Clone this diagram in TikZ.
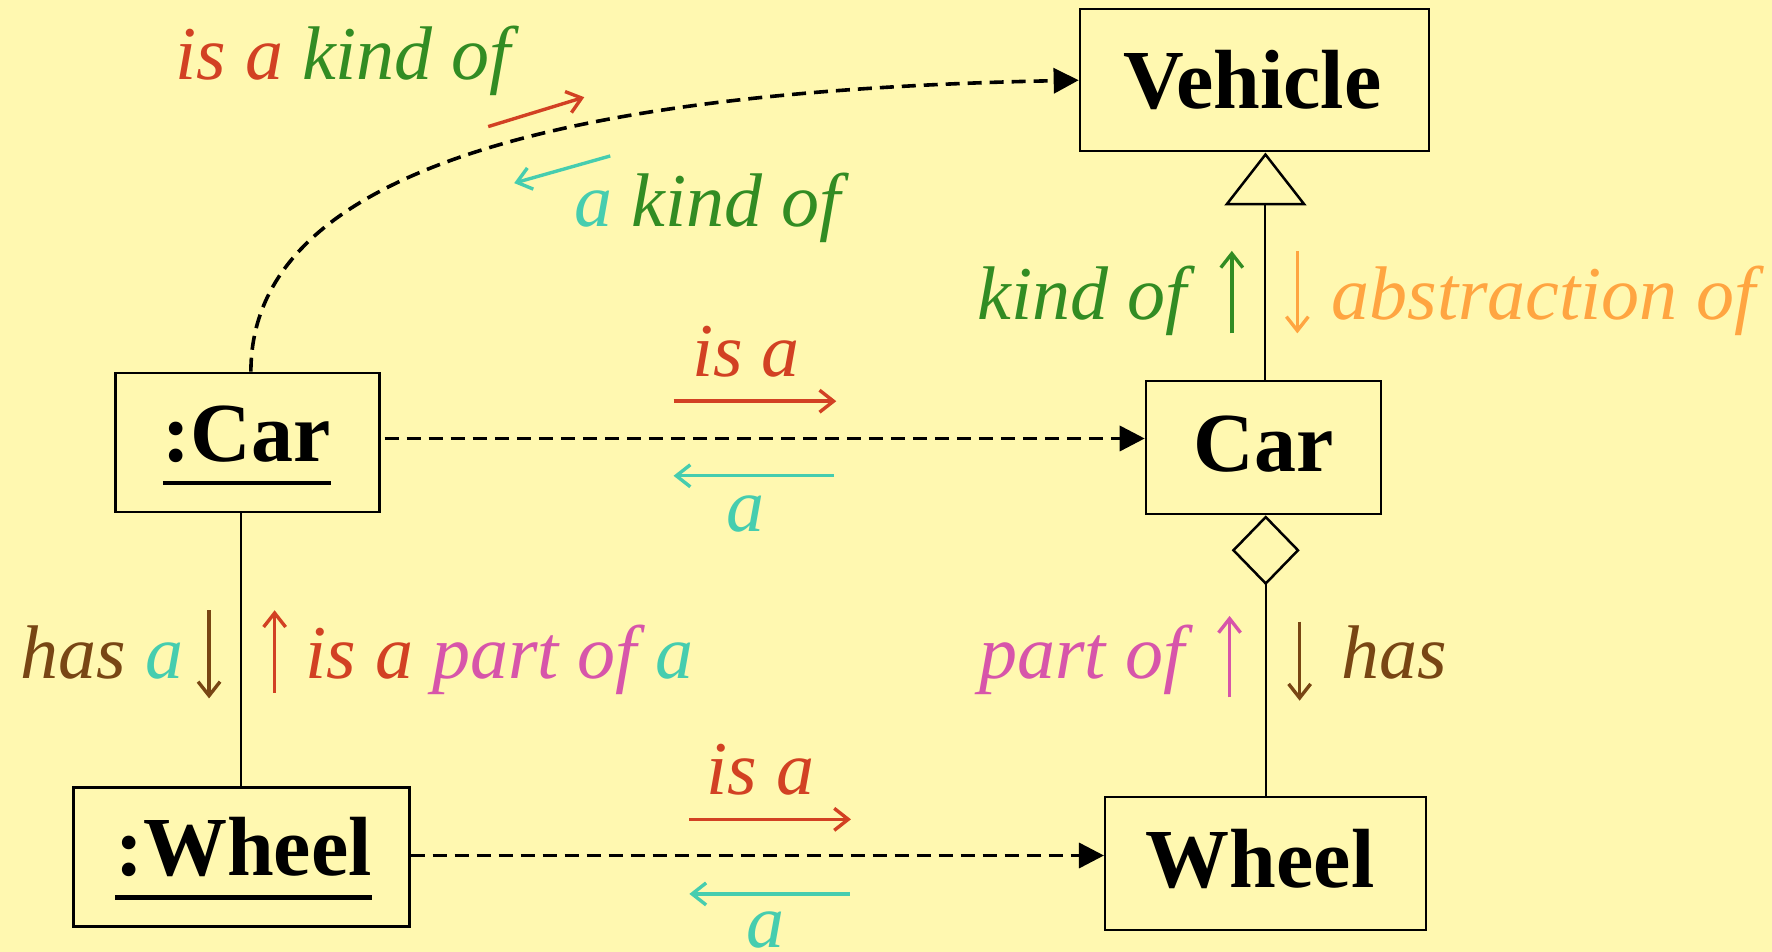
\documentclass[tikz,border=0pt]{standalone}
\usepackage{fontspec}
\setmainfont{Liberation Serif}
\usetikzlibrary{arrows.meta}
\definecolor{bg}{RGB}{255,248,176}
\definecolor{cred}{RGB}{210,65,35}
\definecolor{cgreen}{RGB}{50,140,35}
\definecolor{ccyan}{RGB}{70,205,175}
\definecolor{corange}{RGB}{255,165,65}
\definecolor{cmag}{RGB}{215,85,170}
\definecolor{cbrown}{RGB}{120,70,20}
\newsavebox\ulbox
\newcommand\myul[1]{\sbox\ulbox{#1}\rlap{\rule[-24pt]{\wd\ulbox}{4.5pt}}\usebox\ulbox}
\begin{document}
\begin{tikzpicture}[x=1.1301pt,y=-1.1301pt,
  box/.style={draw, line width=2.5pt, inner sep=0pt},
  bt/.style={font=\fontsize{84}{90}\selectfont\bfseries, inner sep=0pt, anchor=base},
  lab/.style={font=\fontsize{76}{80}\selectfont\itshape, inner sep=0pt},
  thin/.style={line width=2pt},
  dashedc/.style={line width=3.6pt, dash pattern=on 14pt off 8pt, -{Triangle[length=25pt,width=25pt]}},
  arr/.style={line width=3.4pt, -{Straight Barb[length=14pt,width=22pt]}}
]
\path[fill=bg] (0,0) rectangle (1568,842);
\useasboundingbox (0,0) rectangle (1568,842);

% boxes
\node[box, minimum width=349pt, minimum height=142pt] (vehicle) at (1110,71) {};
\node[box, minimum width=235pt, minimum height=133pt] (car) at (1118,396) {};
\node[box, minimum width=264pt, minimum height=139pt] (ocar) at (219,391.5) {};
\node[box, minimum width=336pt, minimum height=139pt] (owheel) at (213.5,758.5) {};
\node[box, minimum width=321pt, minimum height=133pt] (wheel) at (1120,764) {};

% box texts
\node[bt] (vehicleT) at (1108,96) {Vehicle};
\node[bt] (carT) at (1118,417) {Car};
\node[bt] (ocarT) at (218.5,408) {\myul{:Car}};
\node[bt] (owheelT) at (215.5,775) {\myul{:Wheel}};
\node[bt] (wheelT) at (1115,785) {Wheel};

% generalization and aggregation
\draw[thin, -{Triangle[open, length=53pt, width=82pt, line width=2.5pt, fill=bg]}] ([xshift=2pt]car.north) -- ([xshift=2pt]car.north |- vehicle.south);
\draw[thin, -{Diamond[open, length=70pt, width=68pt, line width=2.5pt, fill=bg]}] (wheel.north) -- (wheel.north |- car.south);
\draw[thin] ([xshift=-0.5pt]owheel.north) -- ([xshift=-0.5pt]owheel.north |- ocar.south);

% dependencies
\coordinate (r1) at (0,388);
\coordinate (r2) at (0,757);
\draw[dashedc] ([xshift=4pt]ocar.east |- r1) -- (car.west |- r1);
\draw[dashedc] (owheel.east |- r2) -- (wheel.west |- r2);
\draw[dashedc] ([xshift=3.4pt]ocar.north) .. controls (222,150) and (500,80) .. (vehicle.west);

% labels on curve
\node[lab, anchor=base west] (l1) at (155,70) {\textcolor{cred}{is a} \textcolor{cgreen}{kind of}};
\draw[arr, cred] (432,112) -- (517,86);
\draw[arr, ccyan] (540,138) -- (455,162);
\node[lab, anchor=base west] (l2) at (508,200) {\textcolor{ccyan}{a} \textcolor{cgreen}{kind of}};

% Car row
\node[lab, anchor=base, cred] (l3) at (660,333) {is a};
\draw[arr, cred] (596,355) -- (740,355);
\draw[arr, ccyan] (738,421) -- (596,421);
\node[lab, anchor=base, ccyan] (l4) at (660,470) {a};

% Vehicle-Car
\node[lab, anchor=base east, cgreen] (l5) at (1050,283) {kind of};
\draw[arr, cgreen] (1090,295) -- (1090,222);
\draw[arr, corange] (1148,222) -- (1148,295);
\node[lab, anchor=base west, corange] (l6) at (1178,283) {abstraction of};

% :Car - :Wheel
\node[lab, anchor=base west] (l7) at (18,600) {\textcolor{cbrown}{has} \textcolor{ccyan}{a}};
\draw[arr, cbrown] (185,540) -- (185,618);
\draw[arr, cred] (243,613) -- (243,540);
\node[lab, anchor=base west] (l8) at (270,600) {\textcolor{cred}{is a} \textcolor{cmag}{part of} \textcolor{ccyan}{a}};

% Car - Wheel
\node[lab, anchor=base east, cmag] (l9) at (1048,600) {part of};
\draw[arr, cmag] (1088,617) -- (1088,545);
\draw[arr, cbrown] (1150,550) -- (1150,620);
\node[lab, anchor=base west, cbrown] (l10) at (1187,600) {has};

% Wheel row
\node[lab, anchor=base, cred] (l11) at (673,703) {is a};
\draw[arr, cred] (610,725) -- (753,725);
\draw[arr, ccyan] (752,791) -- (610,791);
\node[lab, anchor=base, ccyan] (l12) at (677,838) {a};
\end{tikzpicture}
\end{document}
